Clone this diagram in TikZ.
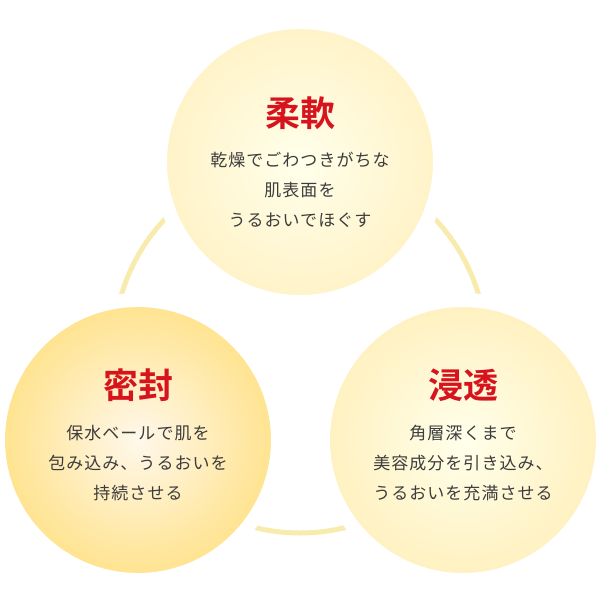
\documentclass[tikz,border=0pt]{standalone}
\usepackage{fontspec}
\newfontfamily\cjk[LetterSpace=6]{Noto Sans CJK JP}
\newfontfamily\cjkb{Noto Sans CJK JP Bold}
\definecolor{ttl}{HTML}{D7141E}
\definecolor{txt}{HTML}{3C3C3C}
\definecolor{ring}{HTML}{F8EBAE}
\begin{document}
\begin{tikzpicture}[x=1pt,y=-1pt,
  bubble/.style={circle,minimum size=280pt,inner sep=0pt,draw=white,line width=14pt},
  title/.style={font=\cjkb\fontsize{35}{35}\selectfont,text=ttl},
  body/.style={font=\cjk\fontsize{17}{30}\selectfont,text=txt,align=center}]
\useasboundingbox (0,0) rectangle (600,600);
\coordinate (c) at (300,347);
\draw[ring,line width=5pt] (c) circle[radius=186];
\node[bubble,inner color=yellow!8!white,outer color=yellow!55!orange!22!white] (top) at (300,162) {};
\node[bubble,inner color=yellow!30!orange!8!white,outer color=yellow!50!orange!45] (left) at (138,440) {};
\node[bubble,inner color=yellow!8!white,outer color=yellow!55!orange!25!white] (right) at (463,440) {};
\node[title] at (300,113) {柔軟};
\node[body] at (300,190) {乾燥でごわつきがちな\\肌表面を\\うるおいでほぐす};
\node[title] at (138,385) {密封};
\node[body] at (138,463) {保水ベールで肌を\\包み込み、うるおいを\\持続させる};
\node[title] at (463,385) {浸透};
\node[body] at (463,463) {角層深くまで\\美容成分を引き込み、\\うるおいを充満させる};
\end{tikzpicture}
\end{document}
